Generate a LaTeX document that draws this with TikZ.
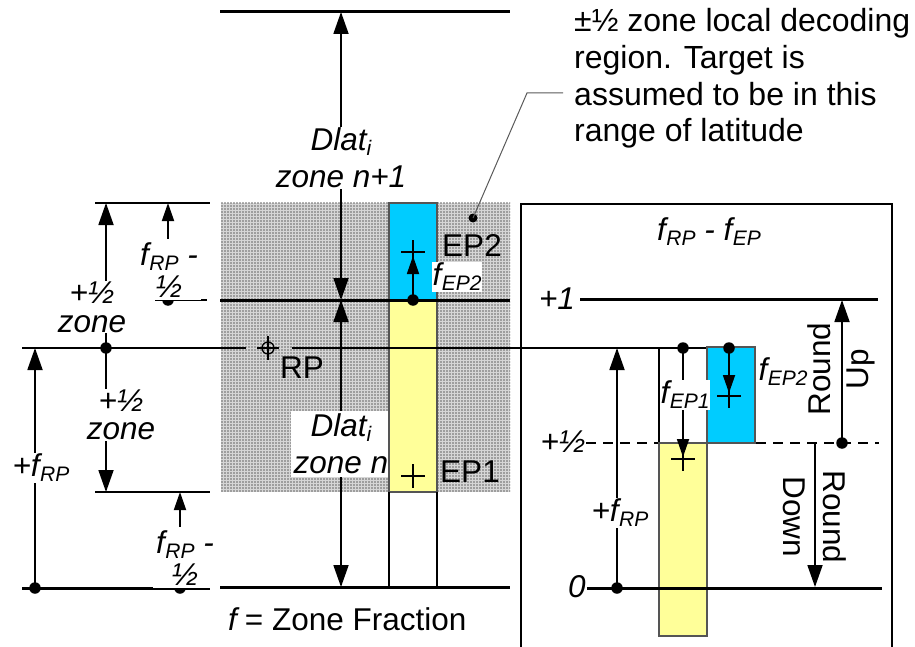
\documentclass[tikz,border=0pt]{standalone}
\usepackage{fontspec}
\setmainfont{Liberation Sans}
\usetikzlibrary{arrows.meta,patterns.meta}
\definecolor{cyanbox}{HTML}{00CCFF}
\definecolor{yelbox}{HTML}{FFFF99}
\definecolor{boxedge}{HTML}{555555}
\newcommand{\fsb}[1]{\textit{f}\kern0.5pt\raisebox{-5pt}{\fontsize{21}{21}\selectfont\itshape #1}}
\newcommand{\isub}[1]{\raisebox{-5pt}{\fontsize{21}{21}\selectfont\itshape #1}}
\tikzset{
  lbl/.style={font=\fontsize{31.5}{36}\selectfont, inner sep=1pt, align=center},
  il/.style={font=\fontsize{31.5}{#1}\selectfont\itshape, inner sep=1pt, align=center},
  il/.default=36,
  wbg/.style={fill=white},
  thk/.style={line width=3pt},
  thn/.style={line width=1.8pt},
  arr/.style={line width=1.8pt, -{Triangle[length=22pt,width=15pt]}},
  sarr/.style={line width=1.8pt, -{Triangle[length=18pt,width=12pt]}},
  dot/.style={circle, fill=black, inner sep=0pt, minimum size=11.5pt},
  pluss/.style={line width=1.5pt}
}
\begin{document}
\begin{tikzpicture}[x=1pt,y=-1pt]
\useasboundingbox (0,0) rectangle (915,647);

% ---- shaded decoding region
\fill[gray!32] (221,203) rectangle (510,492);
\fill[pattern={Dots[distance=3pt,radius=0.85pt]}, pattern color=black!60] (221,203) rectangle (510,492);

% ---- main horizontal lines (left)
\coordinate (t1) at (220,12);  \coordinate (t2) at (510,12);
\coordinate (z1) at (220,300); \coordinate (z2) at (510,300);
\coordinate (b1) at (220,587); \coordinate (b2) at (510,587);
\draw[thk] (t1) -- (t2);
\draw[thk] (b1) -- (b2);

% short dimension lines
\coordinate (u1) at (95,203);  \coordinate (u2) at (210,203);
\coordinate (w1) at (155,300); \coordinate (w2) at (207,300);
\coordinate (l1) at (95,492);  \coordinate (l2) at (210,492);
\coordinate (g1) at (22,588);  \coordinate (g2) at (210,588);
\draw[thn] (u1) -- (u2);
\draw[thn] (w1) -- (w2);
\draw[thn] (l1) -- (l2);
\draw[thk] (g1) -- (g2);

% ---- Dlat labels and arrows
\node[il=37] (dl1) at (341,158) {Dlat\isub{i}\\zone n+1};
\coordinate (dl1t) at (341,12);
\coordinate (zc) at (341,300);
\coordinate (bc) at (341,587);
\draw[arr] (dl1.north) -- (dl1t);
\draw[arr] (dl1.south) -- (zc);
\node[il=37, wbg, inner sep=3pt] (dl2) at (341,444) {Dlat\isub{i}\\zone n};
\draw[arr] (dl2.north) -- (zc);
\draw[arr] (dl2.south) -- (bc);

% ---- left column (zone n / n+1)
\fill[cyanbox] (389,203) rectangle (437,300);
\draw[boxedge, line width=1.5pt] (389,203) rectangle (437,300);
\fill[yelbox] (389,300) rectangle (437,492);
\draw[boxedge, line width=1.5pt] (389,300) rectangle (437,492);
\draw[thn] (389,492) -- (389,587) (437,492) -- (437,587);

\draw[thk] (z1) -- (z2);

% ---- RP reference line
\coordinate (r1) at (22,348);  \coordinate (r2) at (246,348);
\coordinate (r3) at (292,348); \coordinate (r4) at (707,348);
\draw[thn] (r1) -- (r2);
\draw[thn] (r3) -- (r4);

% RP symbol
\node[circle, draw, line width=1.3pt, minimum size=12pt, inner sep=0pt] (rp) at (268,348) {};
\draw[line width=1.3pt] (257,348) -- (279,348) (268,336) -- (268,360);
\node[lbl] (rpl) at (302,368) {RP};

% ---- +1/2 zone dimensions
\node[dot] (dC) at (106,348) {};
\coordinate (dCt) at (106,203);
\coordinate (dCb) at (106,492);
\draw[arr] (dC.center) -- (dCt);
\draw[arr] (dC.center) -- (dCb);
\node[il=29, wbg] (lC) at (92,307) {+½\\zone};
\node[il=28.5, wbg] (lD) at (121,415) {+½\\zone};

% ---- +f_RP (left)
\node[dot] (dE) at (35,588) {};
\coordinate (dEt) at (35,348);
\draw[arr] (dE.center) -- (dEt);
\node[il, wbg] (lE) at (41,468) {+\fsb{RP}};

% ---- f_RP - 1/2 (upper)
\node[dot] (dA) at (168,300) {};
\coordinate (dAt) at (168,203);
\draw[sarr] (dA.center) -- (dAt);
\node[il=32, wbg, inner sep=3pt, anchor=south] (lA) at (169,300.5) {\fsb{RP} -\\½};

% ---- f_RP - 1/2 (lower)
\node[dot] (dB) at (180,588) {};
\coordinate (dBt) at (180,492);
\draw[sarr] (dB.center) -- (dBt);
\node[il=32, wbg, inner sep=3pt, anchor=south] (lB) at (185,588.5) {\fsb{RP} -\\½};

% ---- EP2 (left)
\node[dot] (dF) at (413,300) {};
\coordinate (pFt) at (413,256);
\draw[sarr] (dF.center) -- (pFt);
\draw[pluss] (401,252) -- (425,252) (413,240) -- (413,264);
\node[lbl] (ep2) at (472,246) {EP2};
\node[il, wbg] (fe2) at (457,277) {\fsb{EP2}};

% ---- EP1 (left)
\draw[pluss] (401,476) -- (425,476) (413,464) -- (413,488);
\node[lbl] (ep1) at (470,472) {EP1};

% ---- zone fraction caption
\node[lbl, anchor=base west, inner sep=0pt] (zf) at (228,630) {\textit{f}\,= Zone Fraction};

% ---- callout
\node[dot, minimum size=9pt] (cd) at (473,218) {};
\coordinate (ck) at (527,93);
\coordinate (ce) at (563,93);
\draw[gray!70!black, line width=1pt] (cd.center) -- (ck) -- (ce);
\node[font=\fontsize{32}{36.7}\selectfont, align=left, anchor=base west, inner sep=0pt] (ct) at (574,142)
  {±½ zone local decoding\\region. Target is\\assumed to be in this\\range of latitude};

% ================= right panel
\coordinate (p1) at (521,660); \coordinate (p2) at (521,204);
\coordinate (p3) at (892,204); \coordinate (p4) at (892,660);
\draw[thn] (p1) -- (p2) -- (p3) -- (p4);
\node[il] (ttl) at (709,232) {\fsb{RP} - \fsb{EP}};

\node[il] (one) at (557,299) {+1};
\coordinate (o1) at (580,299); \coordinate (o2) at (878,299);
\draw[thk] (o1) -- (o2);

\node[il] (half) at (563,442) {+½};
\coordinate (h1) at (586,443); \coordinate (h2) at (879,443);
\draw[thn, dash pattern=on 10pt off 7pt] (h1) -- (h2);

\node[il] (zero) at (577,587) {0};
\coordinate (n1) at (587,588); \coordinate (n2) at (882,588);

% right columns
\draw[thn] (659,348) -- (659,443) (707,348) -- (707,443);
\fill[yelbox] (659,443) rectangle (707,636);
\draw[boxedge, line width=1.5pt] (659,443) rectangle (707,636);
\fill[cyanbox] (707,347) rectangle (755,443);
\draw[boxedge, line width=1.5pt] (707,347) rectangle (755,443);
\draw[thk] (n1) -- (n2);

% +f_RP right
\node[dot] (dR) at (617,588) {};
\coordinate (dRt) at (617,348);
\draw[arr] (dR.center) -- (dRt);
\node[il, wbg] (lR) at (620,513) {+\fsb{RP}};

% f_EP1 right
\node[dot] (dG) at (683,348) {};
\coordinate (dGt) at (683,457);
\draw[sarr] (dG.center) -- (dGt);
\draw[pluss] (671,459) -- (695,459) (683,447) -- (683,471);
\node[il, wbg] (lG) at (685,395) {\fsb{EP1}};

% f_EP2 right
\node[dot] (dH) at (729,348) {};
\coordinate (dHt) at (729,393);
\draw[sarr] (dH.center) -- (dHt);
\draw[pluss] (717,396) -- (741,396) (729,384) -- (729,408);
\node[il] (lH) at (783,372) {\fsb{EP2}};

% Round Up
\node[dot] (dU) at (842,443) {};
\coordinate (dUt) at (842,300);
\draw[arr] (dU.center) -- (dUt);
\node[lbl, font=\fontsize{31.5}{38}\selectfont, rotate=90] (ru) at (841,369) {Round\\Up};

% Round Down
\coordinate (dD) at (815,443);
\coordinate (dDt) at (815,587);
\draw[arr] (dD) -- (dDt);
\node[lbl, font=\fontsize{31.5}{40}\selectfont, rotate=-90] (rd) at (815,517) {Round\\Down};

\end{tikzpicture}
\end{document}
